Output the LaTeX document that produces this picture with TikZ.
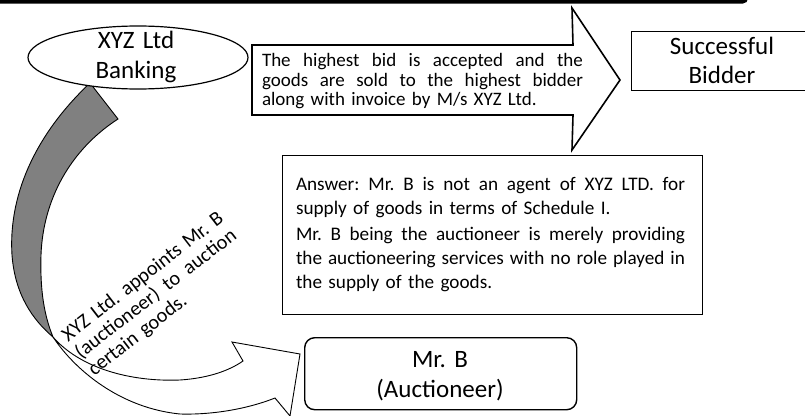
\documentclass[tikz,border=0pt]{standalone}
\usepackage{fontspec}
\setmainfont{Carlito}
\usetikzlibrary{shapes.geometric}
\newcommand\jsize[2]{\fontsize{#1}{#2}\selectfont\frenchspacing}
\newcommand\wsp{\hfill}
\newcommand\spreadline[2]{\makebox[#1][s]{#2}}
\begin{document}
\begin{tikzpicture}[x=1pt,y=-1pt,
  box/.style={draw=black, line width=1.4pt, fill=white, inner sep=0pt},
  txt/.style={inner sep=0pt, outer sep=0pt},
  shapeline/.style={draw=black, line width=0.9pt}]
\useasboundingbox (0,0) rectangle (805,415);
\clip (0,0) rectangle (805,415);
\fill[white] (0,0) rectangle (805,415);
% top bar
\fill[black, rounded corners=5pt] (-20,-30) rectangle (748,3.5);

% curved arrow: gray back band
\filldraw[shapeline, fill=gray] (90,83) .. controls (40,130) and (8,190) .. (12,255)
  .. controls (15,295) and (33,320) .. (53,337)
  .. controls (44,315) and (40,290) .. (41,255)
  .. controls (43,200) and (70,150) .. (118,119) -- cycle;
% curved arrow: white front with head
\filldraw[shapeline, fill=white, line join=miter] (53,337) .. controls (80,368) and (130,382) .. (180,380)
  .. controls (210,378) and (230,370) .. (243,361) -- (232,342) -- (300,354) -- (290,416) -- (275,398)
  .. controls (250,408) and (215,415) .. (180,414)
  .. controls (120,408) and (75,370) .. (53,337) -- cycle;

% block arrow
\filldraw[draw=black, line width=1.6pt, fill=white, line join=miter]
  (252,45) -- (573,45) -- (572,8) -- (620,80) -- (572,150) -- (573,115) -- (252,115) -- cycle;
\node[txt, anchor=base west, text width=321pt, font=\jsize{19}{19.5}] (bidtxt) at (262,66.7)
  {\spreadline{321pt}{The\wsp highest\wsp bid\wsp is\wsp accepted\wsp and\wsp the}\\\spreadline{321pt}{goods\wsp are\wsp sold\wsp to\wsp the\wsp highest\wsp bidder}\\along with invoice by M/s XYZ Ltd.};

% ellipse
\node[ellipse, draw=black, line width=1.2pt, fill=white, minimum width=220pt, minimum height=63pt, inner sep=0pt] (bank) at (138,57.5) {};
\node[txt, anchor=base, text width=150pt, align=center, font=\jsize{25}{30.5}] (banktxt) at (136,48) {XYZ Ltd\\Banking};

% successful bidder
\node[box, anchor=north west, minimum width=174pt, minimum height=59pt] (succ) at (631,31) {};
\node[txt, anchor=base, text width=150pt, align=center, font=\jsize{25}{29}] (succtxt) at (722,54) {Successful\\Bidder};

% answer box
\node[box, anchor=north west, minimum width=420pt, minimum height=159pt] (ans) at (282,155) {};
\node[txt, anchor=base west, text width=389pt, font=\jsize{19.2}{24}] (anstxt) at (296,190.7)
  {\spreadline{389pt}{Answer:\wsp Mr.\wsp B\wsp is\wsp not\wsp an\wsp agent\wsp of\wsp XYZ\wsp LTD.\wsp for}\\supply of goods in terms of Schedule I.\\[2pt]\spreadline{389pt}{Mr.\wsp B\wsp being\wsp the\wsp auctioneer\wsp is\wsp merely\wsp providing}\\\spreadline{389pt}{the\wsp auctioneering\wsp services\wsp with\wsp no\wsp role\wsp played\wsp in}\\the supply of the goods.};

% Mr. B box
\node[box, rounded corners=10pt, anchor=north west, minimum width=272pt, minimum height=72pt] (mrb) at (304,337) {};
\node[txt, anchor=base, text width=200pt, align=center, font=\jsize{25}{30}] (mrbtxt) at (440,367) {Mr. B\\(Auctioneer)};

% rotated label
\node[txt, rotate=37.7, anchor=base west, text width=198pt, font=\jsize{20.3}{21.5}] (apptxt) at (68,342)
  {\spreadline{198pt}{XYZ\wsp Ltd.\wsp appoints\wsp Mr.\wsp B}\\\spreadline{198pt}{(auctioneer)\wsp to\wsp auction}\\certain goods.};
\end{tikzpicture}
\end{document}
